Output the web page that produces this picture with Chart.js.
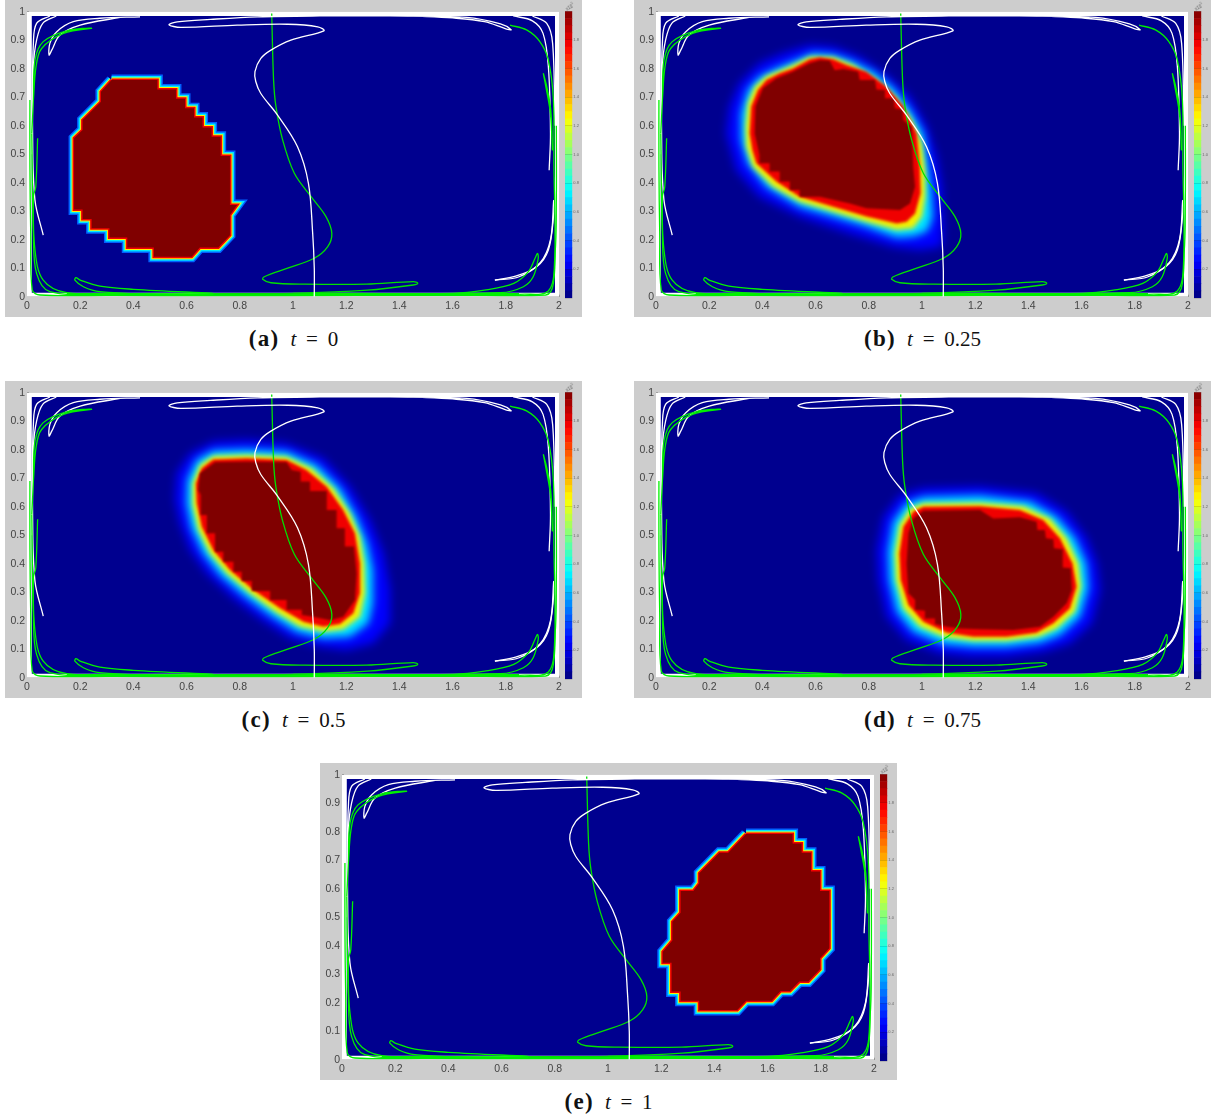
<!DOCTYPE html>
<html>
<head>
<meta charset="utf-8">
<script src="https://cdn.jsdelivr.net/npm/chart.js@4"></script>
<style>
html, body { margin: 0; padding: 0; background: #fff; }
#page { position: relative; width: 1221px; height: 1120px; overflow: hidden; }
.box { position: absolute; width: 577px; height: 317px; background: #cdcdcd; }
.box canvas { position: absolute; top: 0; filter: blur(0.35px); }
.unit { position: absolute; left: 560px; top: 3px; font: 4.5px "Liberation Sans"; color: #666; transform: rotate(-30deg); }
.cap { position: absolute; width: 577px; text-align: center; font: 21px "Liberation Serif"; color: #111; white-space: pre; word-spacing: 4.5px; }
.cap b { font-size: 23px; letter-spacing: 1.3px; margin-right: 11px; }
</style>
</head>
<body>
<div id="page"></div>
<script>
var xTickStep = 0.2;
var yTickStep = 0.1;
var barTickStep = 0.2;
var barEdges = [0,0.05,0.1,0.15,0.2,0.25,0.3,0.35,0.4,0.45,0.5,0.55,0.6,0.65,0.7,0.75,0.8,0.85,0.9,0.95,1,1.05,1.1,1.15,1.2,1.25,1.3,1.35,1.4,1.45,1.5,1.55,1.6,1.65,1.7,1.75,1.8,1.85,1.9,1.95,2];

var plotBounds = [[0,0],[2,0],[2,1],[0,1],[0,0]];
var fieldBounds = [[0.018,0.014],[1.985,0.014],[1.985,0.985],[0.018,0.985],[0.018,0.014]];

// white tracer curve
var whiteMid = [[1.08,0],[1.08,0.1],[1.074,0.222],[1.058,0.398],[1.017,0.526],[0.942,0.637],[0.879,0.713],[0.86,0.755],[0.857,0.79],[0.879,0.836],[0.917,0.865],[0.992,0.9],[1.116,0.933],[1.093,0.947],[0.98,0.956],[0.79,0.953],[0.578,0.945],[0.534,0.954],[0.565,0.964],[0.69,0.973],[0.867,0.982],[1.1,0.985],[1.365,0.985],[1.653,0.98],[1.78,0.957],[1.82,0.937],[1.8,0.94],[1.72,0.965],[1.6,0.978],[1.45,0.985]];
var whiteLeftA = [[0.086,0.985],[0.036,0.959],[0.024,0.889],[0.02,0.69],[0.018,0.5]];
var whiteLeftB = [[0.11,0.985],[0.06,0.96],[0.036,0.9],[0.024,0.807],[0.021,0.573],[0.03,0.339],[0.061,0.216]];
var whiteHook = [[0.425,0.982],[0.274,0.977],[0.174,0.965],[0.112,0.93],[0.086,0.889],[0.083,0.848],[0.093,0.865],[0.124,0.918],[0.2,0.953],[0.35,0.98]];
var whiteRightA = [[1.828,0.985],[1.9,0.968],[1.94,0.924],[1.96,0.807],[1.968,0.573],[1.963,0.444]];
var whiteRightB = [[1.9,0.985],[1.954,0.959],[1.976,0.889],[1.985,0.6]];
var whiteLowA = [[1.759,0.058],[1.84,0.073],[1.916,0.105],[1.96,0.164],[1.979,0.28],[1.989,0.456]];
var whiteLowB = [[1.759,0.058],[1.85,0.07],[1.93,0.12],[1.968,0.2],[1.98,0.339]];

// green tracer curve
var greenMid = [[0.92,0.994],[0.927,0.76],[0.936,0.667],[0.961,0.55],[1.005,0.433],[1.068,0.351],[1.124,0.281],[1.146,0.222],[1.13,0.175],[1.08,0.135],[0.98,0.1],[0.892,0.07],[0.886,0.061],[0.917,0.049],[1.043,0.044],[1.277,0.044],[1.452,0.053],[1.469,0.047],[1.452,0.041],[1.28,0.023],[1.0,0.012],[0.7,0.01]];
var greenBandA = [[0.011,0.69],[0.011,0.456],[0.014,0.222],[0.02,0.023],[0.049,0.006],[0.3,0.005],[1,0.005],[1.6,0.006],[1.95,0.006],[1.979,0.047],[1.985,0.222],[1.981,0.456],[1.979,0.69],[1.96,0.83],[1.928,0.895],[1.878,0.936],[1.816,0.953]];
var greenBandB = [[0.018,0.573],[0.024,0.222],[0.036,0.082],[0.086,0.0175],[0.3,0.008],[1,0.009],[1.78,0.014],[1.866,0.035],[1.903,0.07],[1.922,0.135],[1.919,0.152],[1.91,0.135],[1.885,0.088],[1.83,0.047],[1.72,0.023],[1.6,0.012],[1,0.012]];
var greenBandC = [[0.04,0.556],[0.033,0.386],[0.024,0.35],[0.03,0.164],[0.061,0.058],[0.149,0.014],[0.4,0.01],[1.2,0.008]];
var greenBottom = [[0.15,0.008],[0.5,0.007],[1,0.007],[1.5,0.008],[1.85,0.008]];
var greenHookLow = [[0.7,0.012],[0.4,0.026],[0.274,0.037],[0.2,0.058],[0.184,0.067],[0.18,0.058],[0.212,0.035],[0.274,0.0175],[0.525,0.006]];
var greenHookTop = [[0.018,0.573],[0.024,0.69],[0.03,0.83],[0.061,0.895],[0.149,0.933],[0.243,0.942],[0.137,0.924],[0.055,0.871],[0.034,0.807],[0.024,0.69]];
var greenRightHook = [[1.941,0.784],[1.954,0.737],[1.969,0.655],[1.975,0.515],[1.968,0.64],[1.95,0.74],[1.941,0.784]];
var greenRightEdge = [[1.99,0.6],[1.99,0.34],[1.985,0.15],[1.96,0.02],[1.85,0.008]];

// blob outlines
var coreA = [[0.318,0.76],[0.49,0.76],[0.49,0.727],[0.56,0.727],[0.56,0.695],[0.594,0.695],[0.594,0.661],[0.628,0.661],[0.628,0.629],[0.66,0.629],[0.66,0.594],[0.694,0.594],[0.694,0.561],[0.728,0.561],[0.728,0.494],[0.763,0.494],[0.763,0.322],[0.79,0.322],[0.763,0.287],[0.763,0.216],[0.719,0.173],[0.65,0.173],[0.619,0.14],[0.477,0.14],[0.477,0.173],[0.377,0.173],[0.377,0.208],[0.31,0.208],[0.31,0.24],[0.243,0.24],[0.243,0.273],[0.209,0.273],[0.209,0.306],[0.177,0.306],[0.177,0.556],[0.209,0.585],[0.209,0.62],[0.278,0.684],[0.278,0.719],[0.318,0.76]];
var coreE = [[1.519,0.792],[1.694,0.792],[1.694,0.759],[1.728,0.759],[1.728,0.726],[1.763,0.726],[1.763,0.66],[1.797,0.66],[1.797,0.592],[1.832,0.592],[1.832,0.391],[1.797,0.356],[1.797,0.317],[1.753,0.274],[1.719,0.274],[1.684,0.241],[1.649,0.241],[1.615,0.207],[1.519,0.207],[1.486,0.174],[1.343,0.174],[1.343,0.207],[1.273,0.207],[1.273,0.239],[1.239,0.239],[1.239,0.34],[1.206,0.34],[1.206,0.379],[1.242,0.418],[1.242,0.484],[1.273,0.516],[1.273,0.592],[1.321,0.592],[1.343,0.619],[1.343,0.654],[1.419,0.726],[1.452,0.726],[1.519,0.792]];

var coreB = [[0.578,0.819],[0.616,0.83],[0.653,0.828],[0.672,0.795],[0.704,0.799],[0.76,0.789],[0.766,0.76],[0.823,0.76],[0.829,0.727],[0.861,0.725],[0.861,0.696],[0.894,0.696],[0.898,0.661],[0.927,0.657],[0.93,0.62],[0.961,0.596],[0.967,0.456],[0.974,0.386],[0.955,0.327],[0.917,0.304],[0.791,0.31],[0.729,0.327],[0.616,0.351],[0.54,0.351],[0.54,0.374],[0.503,0.374],[0.503,0.404],[0.465,0.404],[0.465,0.439],[0.427,0.439],[0.427,0.468],[0.389,0.468],[0.389,0.497],[0.371,0.573],[0.374,0.667],[0.402,0.731],[0.452,0.766],[0.515,0.789],[0.578,0.819]];
var redB = [[0.578,0.833],[0.616,0.84],[0.666,0.833],[0.716,0.813],[0.791,0.789],[0.867,0.737],[0.93,0.667],[0.98,0.573],[0.992,0.456],[0.995,0.363],[0.974,0.292],[0.942,0.263],[0.905,0.257],[0.791,0.281],[0.666,0.316],[0.54,0.351],[0.452,0.404],[0.377,0.468],[0.362,0.515],[0.352,0.573],[0.358,0.667],[0.383,0.725],[0.415,0.76],[0.465,0.784],[0.515,0.801],[0.578,0.833]];
var yellowB = [[0.578,0.842],[0.666,0.84],[0.741,0.813],[0.829,0.76],[0.905,0.696],[0.961,0.62],[0.999,0.538],[1.012,0.433],[1.012,0.351],[1.0,0.281],[0.967,0.24],[0.905,0.234],[0.791,0.263],[0.666,0.298],[0.54,0.333],[0.44,0.386],[0.364,0.456],[0.339,0.526],[0.337,0.596],[0.345,0.678],[0.371,0.737],[0.415,0.774],[0.465,0.793],[0.515,0.813],[0.578,0.842]];
var cyanB = [[0.59,0.854],[0.666,0.848],[0.729,0.83],[0.817,0.789],[0.892,0.731],[0.955,0.655],[1.005,0.573],[1.02,0.48],[1.035,0.374],[1.04,0.28],[1.02,0.23],[0.97,0.212],[0.905,0.208],[0.791,0.246],[0.666,0.281],[0.54,0.316],[0.415,0.386],[0.345,0.468],[0.32,0.55],[0.32,0.643],[0.345,0.725],[0.389,0.772],[0.452,0.801],[0.528,0.83],[0.59,0.854]];
var blueB = [[0.578,0.883],[0.666,0.877],[0.766,0.842],[0.867,0.778],[0.955,0.702],[1.018,0.596],[1.055,0.491],[1.074,0.386],[1.08,0.246],[1.074,0.175],[0.992,0.164],[0.892,0.175],[0.729,0.222],[0.54,0.281],[0.389,0.351],[0.302,0.444],[0.264,0.573],[0.276,0.667],[0.314,0.749],[0.389,0.819],[0.477,0.854],[0.578,0.883]];

var coreC = [[0.707,0.756],[0.826,0.758],[0.976,0.756],[0.995,0.729],[1.029,0.723],[1.029,0.688],[1.064,0.688],[1.064,0.655],[1.127,0.655],[1.127,0.588],[1.164,0.588],[1.164,0.524],[1.195,0.524],[1.195,0.46],[1.229,0.46],[1.239,0.366],[1.233,0.273],[1.189,0.214],[1.139,0.202],[1.076,0.214],[1.033,0.22],[1.033,0.238],[0.976,0.238],[0.976,0.273],[0.914,0.273],[0.914,0.304],[0.845,0.304],[0.845,0.339],[0.807,0.339],[0.807,0.372],[0.776,0.372],[0.776,0.407],[0.738,0.407],[0.738,0.442],[0.707,0.442],[0.707,0.507],[0.676,0.507],[0.676,0.571],[0.653,0.571],[0.653,0.641],[0.644,0.659],[0.65,0.717],[0.707,0.756]];
var redC = [[0.7,0.766],[0.826,0.77],[0.976,0.764],[1.051,0.729],[1.127,0.67],[1.189,0.588],[1.233,0.507],[1.252,0.401],[1.252,0.296],[1.227,0.226],[1.177,0.188],[1.114,0.179],[1.039,0.196],[0.951,0.244],[0.851,0.308],[0.763,0.378],[0.7,0.448],[0.657,0.53],[0.638,0.612],[0.635,0.682],[0.657,0.735],[0.7,0.766]];
var yellowC = [[0.7,0.778],[0.826,0.781],[0.976,0.775],[1.07,0.735],[1.152,0.665],[1.214,0.577],[1.252,0.495],[1.268,0.401],[1.271,0.296],[1.252,0.214],[1.189,0.17],[1.114,0.161],[1.026,0.179],[0.939,0.228],[0.838,0.296],[0.751,0.366],[0.688,0.436],[0.644,0.518],[0.623,0.606],[0.623,0.682],[0.65,0.746],[0.7,0.778]];
var cyanC = [[0.7,0.796],[0.826,0.801],[0.976,0.793],[1.089,0.746],[1.177,0.665],[1.239,0.565],[1.279,0.472],[1.3,0.378],[1.3,0.261],[1.283,0.191],[1.214,0.144],[1.114,0.138],[1.014,0.161],[0.914,0.22],[0.813,0.29],[0.726,0.36],[0.663,0.436],[0.619,0.524],[0.6,0.612],[0.603,0.694],[0.638,0.764],[0.7,0.796]];
var blueC = [[0.7,0.828],[0.826,0.834],[0.976,0.822],[1.114,0.77],[1.214,0.67],[1.289,0.553],[1.34,0.436],[1.365,0.308],[1.365,0.191],[1.302,0.121],[1.202,0.097],[1.102,0.109],[0.989,0.138],[0.876,0.208],[0.776,0.279],[0.676,0.366],[0.613,0.448],[0.575,0.542],[0.556,0.624],[0.563,0.717],[0.613,0.787],[0.7,0.828]];

var coreD = [[1.005,0.586],[1.218,0.588],[1.268,0.559],[1.368,0.563],[1.431,0.547],[1.434,0.518],[1.462,0.518],[1.466,0.489],[1.494,0.486],[1.496,0.454],[1.529,0.451],[1.529,0.387],[1.559,0.384],[1.563,0.308],[1.544,0.261],[1.494,0.214],[1.444,0.179],[1.343,0.167],[1.218,0.17],[1.143,0.173],[1.093,0.179],[1.049,0.188],[1.049,0.208],[1.011,0.208],[1.011,0.235],[0.974,0.238],[0.974,0.273],[0.949,0.296],[0.942,0.401],[0.949,0.507],[0.967,0.559],[1.005,0.586]];
var redD = [[1.005,0.6],[1.218,0.602],[1.368,0.588],[1.456,0.553],[1.519,0.489],[1.566,0.401],[1.581,0.319],[1.556,0.243],[1.494,0.191],[1.431,0.158],[1.318,0.144],[1.193,0.144],[1.093,0.158],[1.005,0.196],[0.949,0.255],[0.92,0.343],[0.915,0.436],[0.93,0.53],[0.967,0.582],[1.005,0.6]];
var yellowD = [[1.005,0.612],[1.218,0.614],[1.381,0.602],[1.481,0.559],[1.544,0.489],[1.588,0.401],[1.598,0.319],[1.575,0.232],[1.506,0.173],[1.437,0.144],[1.318,0.13],[1.193,0.13],[1.086,0.142],[0.992,0.179],[0.93,0.243],[0.902,0.343],[0.898,0.436],[0.915,0.536],[0.955,0.594],[1.005,0.612]];
var cyanD = [[1.005,0.633],[1.218,0.638],[1.406,0.618],[1.506,0.565],[1.575,0.489],[1.617,0.401],[1.625,0.314],[1.594,0.214],[1.519,0.15],[1.444,0.123],[1.318,0.109],[1.193,0.109],[1.08,0.118],[0.967,0.161],[0.905,0.232],[0.877,0.343],[0.873,0.442],[0.892,0.547],[0.942,0.612],[1.005,0.633]];
var blueD = [[1.005,0.665],[1.218,0.67],[1.431,0.647],[1.544,0.582],[1.619,0.489],[1.657,0.401],[1.669,0.308],[1.638,0.191],[1.556,0.121],[1.456,0.091],[1.318,0.074],[1.18,0.074],[1.068,0.086],[0.942,0.132],[0.867,0.214],[0.836,0.343],[0.83,0.448],[0.855,0.565],[0.917,0.641],[1.005,0.665]];

var panels = [
    { id: "a", left: 5, top: 0, label: "(a)", time: "0", core: coreA },
    { id: "b", left: 634, top: 0, label: "(b)", time: "0.25", core: coreB, glow: [blueB, cyanB, yellowB, redB] },
    { id: "c", left: 5, top: 381, label: "(c)", time: "0.5", core: coreC, glow: [blueC, cyanC, yellowC, redC] },
    { id: "d", left: 634, top: 381, label: "(d)", time: "0.75", core: coreD, glow: [blueD, cyanD, yellowD, redD] },
    { id: "e", left: 320, top: 763, label: "(e)", time: "1", core: coreE }
];

function jet(v) {
    var t = v / 2;
    function ramp(c) { return Math.round(255 * Math.max(0, Math.min(1, 1.5 - Math.abs(4 * t - c)))); }
    return "rgb(" + ramp(3) + "," + ramp(2) + "," + ramp(1) + ")";
}

function poly(points, color, blur) {
    return { data: points, showLine: true, fill: "shape", backgroundColor: color, borderWidth: 0, pointRadius: 0, tension: 0, blur: blur || 0 };
}

function ring(points, color, width) {
    return { data: points, showLine: true, fill: false, borderColor: color, borderWidth: width, borderJoinStyle: "miter", pointRadius: 0, tension: 0, blur: 0.5 };
}

function curve(points, color, width) {
    return { data: points, showLine: true, fill: false, borderColor: color, borderWidth: width, pointRadius: 0, tension: 0.35, blur: 0 };
}

// filler runs before any inline plugin, so the filter has to be set once the previous layer is done
var blurPlugin = {
    id: "layerBlur",
    beforeDatasetsDraw: function(chart) {
        var sets = chart.data.datasets;
        chart.ctx.filter = sets[sets.length - 1].blur ? "blur(" + sets[sets.length - 1].blur + "px)" : "none";
    },
    afterDatasetDraw: function(chart, args) {
        var next = chart.data.datasets[args.index - 1];
        chart.ctx.filter = next && next.blur ? "blur(" + next.blur + "px)" : "none";
    }
};

function buildLayers(p) {
    var layers = [poly(plotBounds, "#ffffff"), poly(fieldBounds, "#00008f")];
    if (p.glow) {
        layers.push(poly(p.glow[0], "#0000ff", 5));
        layers.push(poly(p.glow[1], "#00e8ff", 4.5));
        layers.push(poly(p.glow[2], "#f4f000", 2.5));
        layers.push(poly(p.glow[3], "#f00000", 1.5));
        layers.push(poly(p.core, "#800000", 1));
    } else {
        layers.push(ring(p.core, "#0060ff", 11));
        layers.push(ring(p.core, "#00e8ff", 8));
        layers.push(ring(p.core, "#ffee00", 5));
        layers.push(ring(p.core, "#f00000", 3));
        layers.push(poly(p.core, "#800000", 0));
    }
    [whiteLeftA, whiteLeftB, whiteHook, whiteRightA, whiteRightB, whiteLowA, whiteLowB].forEach(function(c) {
        layers.push(curve(c, "#ffffff", 1.3));
    });
    [greenBandA, greenBandB, greenBandC, greenHookLow, greenHookTop, greenRightHook, greenRightEdge].forEach(function(c) {
        layers.push(curve(c, "#00f000", 1.3));
    });
    layers.push(curve(greenBottom, "#00f000", 3));
    layers.push(curve(greenMid, "#00e000", 1.3));
    layers.push(curve(whiteMid, "#ffffff", 1.3));
    return layers.reverse();
}

function axisFit(size) {
    return function(scale) {
        if (scale.axis === "x") { scale.height = size; scale.paddingLeft = 0; scale.paddingRight = 0; }
        else { scale.width = size; scale.paddingTop = 0; scale.paddingBottom = 0; }
    };
}

function tickText(v) {
    return String(Number(Number(v).toFixed(1)));
}

function drawPanel(p) {
    var page = document.getElementById("page");
    var box = document.createElement("div");
    box.className = "box";
    box.style.left = p.left + "px";
    box.style.top = p.top + "px";
    page.appendChild(box);

    var main = document.createElement("canvas");
    main.width = 577; main.height = 317;
    main.style.left = "0px";
    box.appendChild(main);

    new Chart(main.getContext("2d"), {
        type: "scatter",
        data: { datasets: buildLayers(p) },
        plugins: [blurPlugin],
        options: {
            responsive: false,
            animation: false,
            layout: { padding: { left: 0, top: 11.7, right: 23, bottom: 0 } },
            plugins: { legend: { display: false }, tooltip: { enabled: false } },
            scales: {
                x: {
                    type: "linear", min: 0, max: 2, afterFit: axisFit(20.3),
                    ticks: { stepSize: xTickStep, maxRotation: 0, autoSkip: false, color: "#444", padding: 5, font: { family: "Liberation Sans", size: 10.5 }, callback: tickText },
                    grid: { drawOnChartArea: false, tickLength: -2, color: "#999" },
                    border: { color: "#999" }
                },
                y: {
                    type: "linear", min: 0, max: 1, afterFit: axisFit(22),
                    ticks: { stepSize: yTickStep, autoSkip: false, color: "#444", padding: 4, font: { family: "Liberation Sans", size: 10.5 }, callback: tickText },
                    grid: { drawOnChartArea: false, tickLength: -2, color: "#999" },
                    border: { color: "#999" }
                }
            }
        }
    });

    var side = document.createElement("canvas");
    side.width = 22; side.height = 317;
    side.style.left = "555px";
    box.appendChild(side);

    var bands = [];
    for (var i = 0; i < barEdges.length - 1; i++) {
        bands.push({ data: [[barEdges[i], barEdges[i + 1]]], backgroundColor: jet((barEdges[i] + barEdges[i + 1]) / 2), borderWidth: 0, barPercentage: 1, categoryPercentage: 1, grouped: false });
    }
    new Chart(side.getContext("2d"), {
        type: "bar",
        data: { labels: [""], datasets: bands },
        options: {
            responsive: false,
            animation: false,
            layout: { padding: { left: 5, top: 11.3, right: 0, bottom: 19 } },
            plugins: { legend: { display: false }, tooltip: { enabled: false } },
            scales: {
                x: { display: false },
                y: {
                    position: "right", min: 0, max: 2, afterFit: axisFit(9.7),
                    ticks: {
                        stepSize: barTickStep, color: "#666", padding: 1, font: { family: "Liberation Sans", size: 4 },
                        callback: function(v) { return (v === 0 || v === 2) ? "" : Number(v).toFixed(1); }
                    },
                    grid: { z: 1, tickLength: 0, color: "rgba(0,0,0,0.25)", lineWidth: 0.5 },
                    border: { display: false }
                }
            }
        }
    });

    var unit = document.createElement("div");
    unit.className = "unit";
    unit.innerHTML = "x10<sup style='font-size:3px'>5</sup>";
    box.appendChild(unit);

    var cap = document.createElement("div");
    cap.className = "cap";
    cap.style.left = p.left + "px";
    cap.style.top = (p.top + 326) + "px";
    cap.innerHTML = "<b>" + p.label + "</b><i>t</i> = " + p.time;
    page.appendChild(cap);
}

window.onload = function() {
    panels.forEach(drawPanel);
};
</script>
</body>
</html>
